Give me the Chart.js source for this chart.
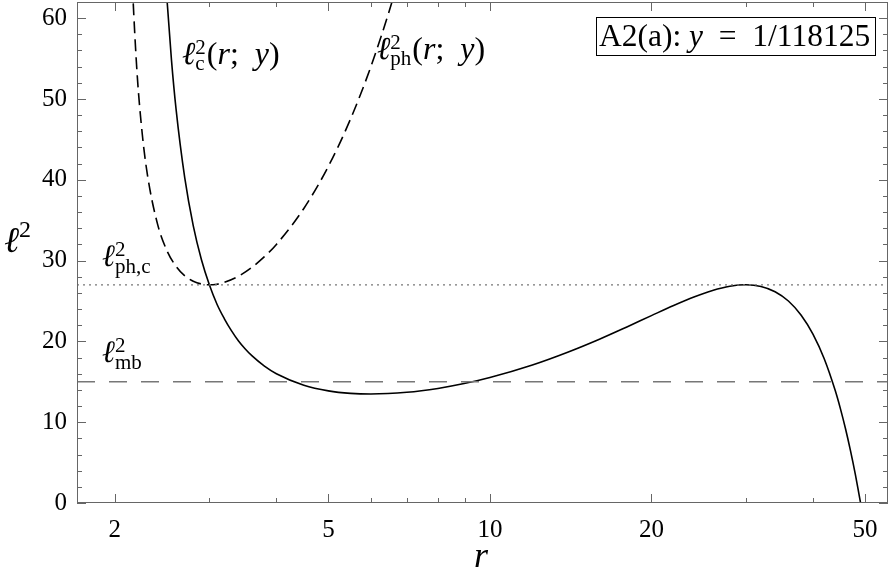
<!DOCTYPE html>
<html>
<head>
<meta charset="utf-8">
<script src="https://cdn.jsdelivr.net/npm/chart.js@4"></script>
<style>
  html, body { margin: 0; padding: 0; background: #fff; }
</style>
</head>
<body>
<canvas id="chart" width="891" height="576"></canvas>
<script>
  // circular-orbit curve l^2_c(r; y)
  const rC = [2.48, 2.5, 2.55, 2.6, 2.7, 2.8, 2.9, 3, 3.1, 3.2, 3.3, 3.4, 3.5, 3.6, 3.8, 4, 4.5, 5, 5.5, 6, 7, 8, 9, 10,
              12, 14, 16, 18, 20, 22, 24, 26, 28, 30, 32, 34, 36, 38, 40, 42, 44, 45, 46, 47, 47.5, 48, 48.5, 49, 49.07];
  const l2C = [66.2, 62.5, 54.8, 48.8, 40.2, 34.3, 30.1, 27.0, 24.6, 22.8, 21.3, 20.05, 19.06, 18.23, 16.94, 16.0, 14.58, 13.88, 13.57, 13.49, 13.70, 14.18, 14.81, 15.53,
               17.08, 18.69, 20.27, 21.79, 23.19, 24.44, 25.49, 26.30, 26.82, 27.0, 26.80, 26.15, 25.0, 23.27, 20.90, 17.82, 13.94, 11.68, 9.19, 6.46, 5.0, 3.47, 1.88, 0.22, 0];

  // photon curve l^2_ph(r; y)
  const rPh = [2.15, 2.16, 2.2, 2.25, 2.3, 2.4, 2.5, 2.6, 2.7, 2.8, 2.9, 3, 3.1, 3.2, 3.4, 3.6, 3.8, 4, 4.5, 5, 5.5, 6, 6.5, 6.7];
  const l2Ph = [66.3, 63.0, 53.2, 45.6, 40.6, 34.6, 31.25, 29.3, 28.1, 27.44, 27.1, 27.0, 27.08, 27.31, 28.07, 29.16, 30.48, 32.0, 36.45, 41.67, 47.54, 54.0, 61.0, 64.0];

  // horizontal reference levels
  const l2PhC = 27;
  const l2Mb = 15;

  // axes
  const rRange = [1.7, 55.2];
  const l2Range = [0, 62];
  const xTicks = [2, 5, 10, 20, 50];
  const xMinor = [3, 4, 6, 7, 8, 9, 30, 40];
  const yTicks = [0, 10, 20, 30, 40, 50, 60];
  const yMinor = [2, 4, 6, 8, 12, 14, 16, 18, 22, 24, 26, 28, 32, 34, 36, 38, 42, 44, 46, 48, 52, 54, 56, 58];

  const SERIF = "'Liberation Serif', 'DejaVu Serif', 'Times New Roman', serif";
  const SP = '\u2002';  // wider math-style space

  const pts = (xs, ys) => xs.map((x, i) => ({ x: x, y: ys[i] }));

  // draws a run of text pieces: [text, style, size, dy, stack]
  function mathText(ctx, x, y, parts) {
    let cx = x, held = 0;
    for (const [t, st, sz, dy, stack] of parts) {
      ctx.font = (st === 'i' ? 'italic ' : '') + sz + 'px ' + SERIF;
      ctx.fillText(t, cx, y + dy);
      const w = ctx.measureText(t).width;
      if (stack) { held = w; continue; }
      cx += Math.max(w, held);
      held = 0;
    }
    return cx;
  }

  const curveLabel = (sub) => [['ℓ', 'i', 32, 0], ['2', 'r', 21, -10, true], [sub, 'r', 21, 6], [' ', 'r', 4, 0],
    ['(', 'r', 32, 0], ['r', 'i', 32, 0], [';' + SP, 'r', 32, 0], ['y', 'i', 32, 0], [')', 'r', 32, 0]];

  const frame = {
    id: 'frame',
    afterDatasetsDraw(chart) {
      const { ctx, chartArea: a, scales: { x, y } } = chart;
      ctx.save();
      ctx.strokeStyle = '#666';
      ctx.lineWidth = 1;
      ctx.strokeRect(a.left + 0.5, a.top + 0.5, a.right - a.left - 1, a.bottom - a.top - 1);
      ctx.beginPath();
      const xt = (v, len) => {
        const px = Math.round(x.getPixelForValue(v)) + 0.5;
        ctx.moveTo(px, a.bottom); ctx.lineTo(px, a.bottom - len);
        ctx.moveTo(px, a.top); ctx.lineTo(px, a.top + len);
      };
      const yt = (v, len) => {
        const py = Math.round(y.getPixelForValue(v)) + 0.5;
        ctx.moveTo(a.left, py); ctx.lineTo(a.left + len, py);
        ctx.moveTo(a.right, py); ctx.lineTo(a.right - len, py);
      };
      xTicks.forEach(v => xt(v, 9));
      xMinor.forEach(v => xt(v, 5));
      yTicks.forEach(v => yt(v, 9));
      yMinor.forEach(v => yt(v, 5));
      ctx.stroke();

      // curve labels
      ctx.fillStyle = '#000';
      ctx.textBaseline = 'alphabetic';
      ctx.textAlign = 'left';
      mathText(ctx, 182, 64, curveLabel('c'));
      mathText(ctx, 377, 59, curveLabel('ph'));
      mathText(ctx, 102, 266, [['ℓ', 'i', 31, 0], ['2', 'r', 21, -10, true], ['ph,c', 'r', 21, 7]]);
      mathText(ctx, 102, 362, [['ℓ', 'i', 31, 0], ['2', 'r', 21, -10, true], ['mb', 'r', 21, 7]]);

      // axis titles
      mathText(ctx, 4, 252, [['ℓ', 'i', 36, 0], ['2', 'r', 24, -15]]);
      ctx.font = 'italic 36px ' + SERIF;
      ctx.textAlign = 'center';
      ctx.fillText('r', 481, 567);
      ctx.textAlign = 'left';

      // panel box
      ctx.strokeStyle = '#000';
      ctx.fillStyle = '#fff';
      ctx.fillRect(596, 17, 279, 38);
      ctx.strokeRect(596.5, 17.5, 279, 38);
      ctx.fillStyle = '#000';
      mathText(ctx, 599, 46, [['A2(a): ', 'r', 31.5, 0], ['y', 'i', 31.5, 0], [SP + '=' + SP + '1/118125', 'r', 31.5, 0]]);
      ctx.restore();
    }
  };

  new Chart(document.getElementById('chart'), {
    type: 'line',
    data: {
      datasets: [
        {
          label: 'l2_ph,c',
          data: pts(rRange, [l2PhC, l2PhC]),
          borderColor: '#777', borderWidth: 1.3, borderDash: [2, 4], pointRadius: 0
        },
        {
          label: 'l2_mb',
          data: pts(rRange, [l2Mb, l2Mb]),
          borderColor: '#777', borderWidth: 1.5, borderDash: [18, 14], pointRadius: 0
        },
        {
          label: 'l2_ph',
          data: pts(rPh, l2Ph),
          borderColor: '#000', borderWidth: 1.6, borderDash: [12, 6], pointRadius: 0,
          cubicInterpolationMode: 'monotone'
        },
        {
          label: 'l2_c',
          data: pts(rC, l2C),
          borderColor: '#000', borderWidth: 1.6, pointRadius: 0,
          cubicInterpolationMode: 'monotone'
        }
      ]
    },
    options: {
      responsive: false,
      animation: false,
      layout: { padding: { top: 2, right: 3, left: 0, bottom: 0 } },
      plugins: { legend: { display: false }, tooltip: { enabled: false } },
      scales: {
        x: {
          type: 'logarithmic',
          min: rRange[0], max: rRange[1],
          grid: { display: false, drawTicks: false },
          border: { display: false },
          ticks: { font: { family: SERIF, size: 25 }, color: '#000', padding: 12, maxRotation: 0, autoSkip: false,
                   callback: v => String(v) },
          afterBuildTicks: s => { s.ticks = xTicks.map(v => ({ value: v })); },
          afterFit: s => { s.height = 73; s.paddingLeft = 0; s.paddingRight = 0; }
        },
        y: {
          min: l2Range[0], max: l2Range[1],
          grid: { display: false, drawTicks: false },
          border: { display: false },
          ticks: { font: { family: SERIF, size: 25 }, color: '#000', padding: 10 },
          afterBuildTicks: s => { s.ticks = yTicks.map(v => ({ value: v })); },
          afterFit: s => { s.width = 77; s.paddingTop = 0; s.paddingBottom = 0; }
        }
      }
    },
    plugins: [frame]
  });
</script>
</body>
</html>
